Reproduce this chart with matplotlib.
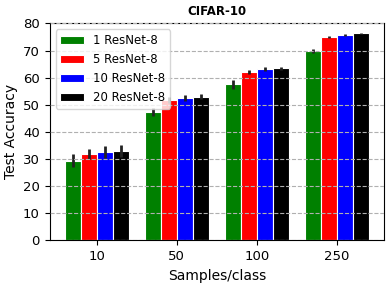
import numpy as np
import matplotlib
matplotlib.use("Agg")
import matplotlib.pyplot as plt

# samples per class on the x axis
samples = ["10", "50", "100", "250"]

# test accuracy (mean, error)
acc_1 = [29.4, 47.3, 57.5, 69.9]
err_1 = [2.3, 1.5, 1.7, 0.7]
acc_5 = [31.9, 51.7, 62.0, 75.0]
err_5 = [1.8, 1.2, 0.7, 0.4]
acc_10 = [32.6, 52.5, 63.1, 75.7]
err_10 = [2.2, 1.0, 0.7, 0.4]
acc_20 = [33.0, 53.0, 63.4, 76.4]
err_20 = [2.2, 0.8, 0.7, 0.2]

series = [
    ("1 ResNet-8", acc_1, err_1, "green"),
    ("5 ResNet-8", acc_5, err_5, "red"),
    ("10 ResNet-8", acc_10, err_10, "blue"),
    ("20 ResNet-8", acc_20, err_20, "black"),
]

fig = plt.figure(figsize=(3.91, 2.86), dpi=100)
ax = fig.add_axes([0.127, 0.16, 0.855, 0.758])

x = np.arange(len(samples))
width = 0.2
for i, (label, vals, errs, color) in enumerate(series):
    ax.bar(x + (i - 1.5) * width, vals, width, yerr=errs, color=color,
           edgecolor="white", linewidth=0.8, label=label,
           error_kw=dict(ecolor="#222222", elinewidth=2))

ax.set_xticks(x)
ax.set_xticklabels(samples)
ax.set_ylim(0, 80)
ax.set_yticks(range(0, 81, 10))
ax.yaxis.grid(True, linestyle="--", color="#b0b0b0", linewidth=0.8)
ax.set_axisbelow(False)
ax.tick_params(labelsize=9.5)
ax.set_xlabel("Samples/class", fontsize=10)
ax.set_ylabel("Test Accuracy", fontsize=10)
ax.set_title("CIFAR-10", fontsize=8.5, fontweight="bold")
ax.legend(loc="upper left", fontsize=8.5)

fig.savefig("out.png", dpi=100)
